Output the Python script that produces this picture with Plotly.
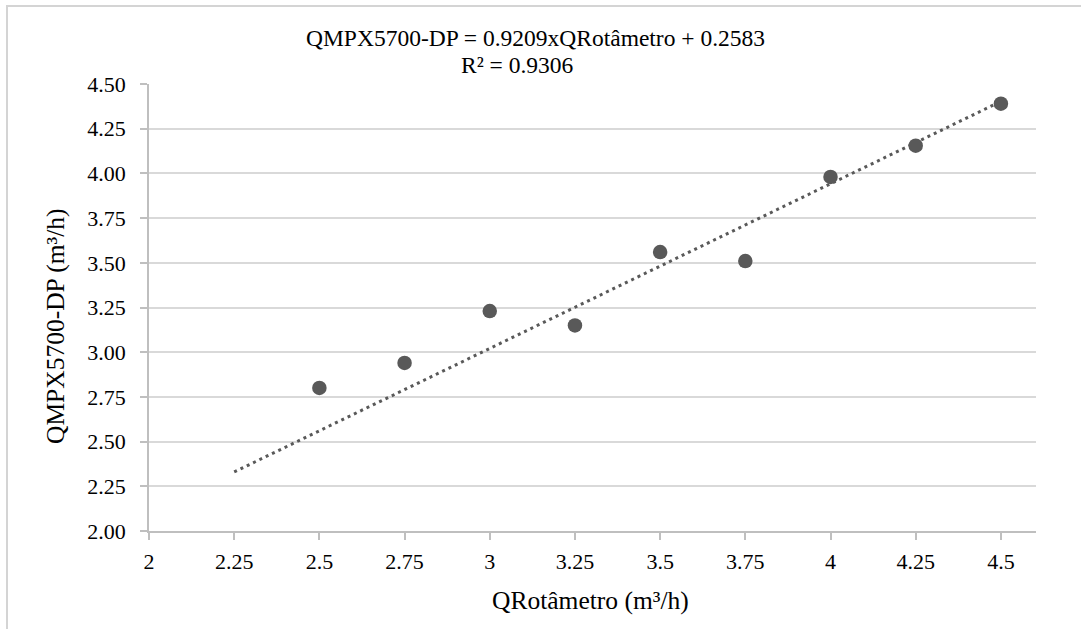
import plotly.graph_objects as go

# Data
q_rot = [2.5, 2.75, 3.0, 3.25, 3.5, 3.75, 4.0, 4.25, 4.5]
q_mpx = [2.80, 2.94, 3.23, 3.15, 3.56, 3.51, 3.98, 4.155, 4.39]
trend_x = [2.25, 4.5]
slope = 0.9209
intercept = 0.2583
x_ticks = [2, 2.25, 2.5, 2.75, 3, 3.25, 3.5, 3.75, 4, 4.25, 4.5]
x_labels = ["2", "2.25", "2.5", "2.75", "3", "3.25", "3.5", "3.75", "4", "4.25", "4.5"]
y_ticks = [2.0, 2.25, 2.5, 2.75, 3.0, 3.25, 3.5, 3.75, 4.0, 4.25, 4.5]
y_labels = ["2.00", "2.25", "2.50", "2.75", "3.00", "3.25", "3.50", "3.75", "4.00", "4.25", "4.50"]
eq_line1 = "QMPX5700-DP = 0.9209xQRotâmetro + 0.2583"
eq_line2 = "R² = 0.9306"
x_title = "QRotâmetro (m³/h)"
y_title = "QMPX5700-DP (m³/h)"

trend_y = [slope * x + intercept for x in trend_x]

FONT = "Liberation Serif"
GRAY = "#595959"
TXT = "#000000"

fig = go.Figure()
fig.add_trace(go.Scatter(
    x=trend_x, y=trend_y, mode="lines",
    line=dict(color=GRAY, width=3, dash="3px,4px"),
    hoverinfo="skip", showlegend=False,
))
fig.add_trace(go.Scatter(
    x=q_rot, y=q_mpx, mode="markers",
    marker=dict(color=GRAY, size=14.5),
    showlegend=False,
))

fig.update_layout(
    width=1081, height=629,
    margin=dict(l=149, r=45, t=84, b=98),
    paper_bgcolor="white", plot_bgcolor="white",
    font=dict(family=FONT, color=TXT, size=22),
    xaxis=dict(
        range=[2, 4.603], tickvals=x_ticks, ticktext=x_labels,
        showgrid=False, zeroline=False,
        showline=True, linecolor="#bfbfbf", linewidth=1.5,
        ticks="outside", ticklen=7, tickcolor="#bfbfbf", tickwidth=1.5,
        tickfont=dict(family=FONT, size=22, color=TXT),
        ticklabelstandoff=3,
    ),
    yaxis=dict(
        range=[2, 4.5], tickvals=y_ticks, ticktext=y_labels,
        showgrid=True, gridcolor="#d9d9d9", gridwidth=1.5,
        zeroline=False,
        showline=True, linecolor="#bfbfbf", linewidth=1.5,
        ticks="outside", ticklen=7, tickcolor="#bfbfbf", tickwidth=1.5,
        tickfont=dict(family=FONT, size=22, color=TXT),
        ticklabelstandoff=10,
    ),
    annotations=[
        dict(text=eq_line1, xref="paper", yref="paper", x=0.4352, y=1.1040,
             xanchor="center", yanchor="middle", showarrow=False,
             font=dict(family=FONT, size=23.5, color=TXT)),
        dict(text=eq_line2, xref="paper", yref="paper", x=0.4149, y=1.0425,
             xanchor="center", yanchor="middle", showarrow=False,
             font=dict(family=FONT, size=23.5, color=TXT)),
        dict(text=x_title, xref="paper", yref="paper", x=0.4972, y=-0.1544,
             xanchor="center", yanchor="middle", showarrow=False,
             font=dict(family=FONT, size=25.5, color=TXT)),
        dict(text=y_title, xref="paper", yref="paper", x=-0.106, y=0.4586,
             xanchor="center", yanchor="middle", showarrow=False, textangle=-90,
             font=dict(family=FONT, size=25.5, color=TXT)),
    ],
    shapes=[
        dict(type="rect", xref="paper", yref="paper",
             x0=-0.1601, x1=1.2, y0=-0.35, y1=1.1745,
             line=dict(color="#d4d4d4", width=2), layer="below"),
    ],
)

fig.write_html("out.html", config={"displayModeBar": False},
               post_script="document.body.style.margin='0px';")
